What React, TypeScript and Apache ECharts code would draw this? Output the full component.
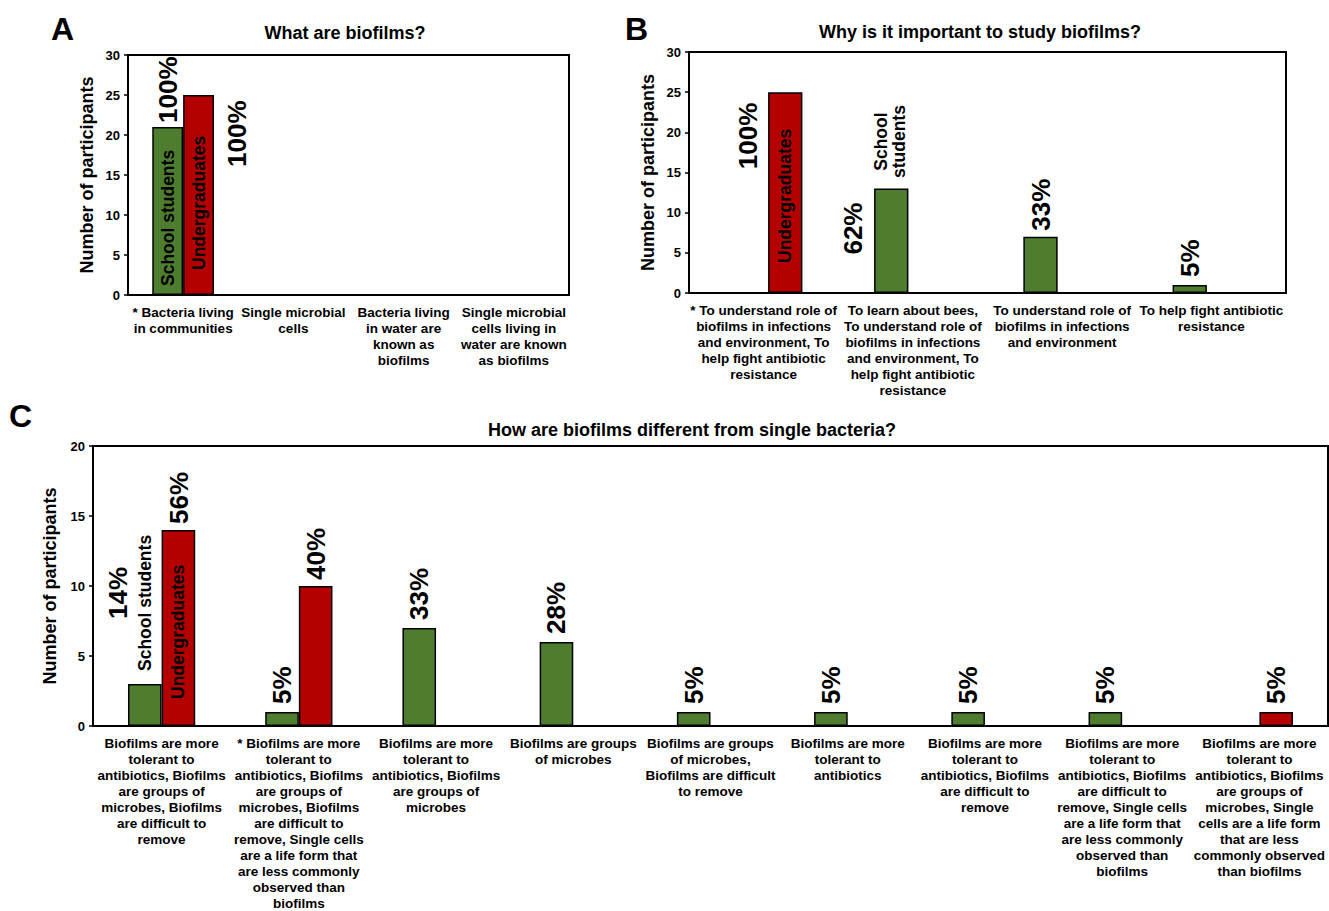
import React, { useEffect, useRef } from "react";
import * as echarts from "echarts";

// ---------- Data ----------
const categoriesA = [
  "* Bacteria living\nin communities",
  "Single microbial\ncells",
  "Bacteria living\nin water are\nknown as\nbiofilms",
  "Single microbial\ncells living in\nwater are known\nas biofilms",
];
const schoolA = [21, 0, 0, 0];
const underA = [25, 0, 0, 0];
const pctSchoolA = ["100%", "", "", ""];
const pctUnderA = ["100%", "", "", ""];

const categoriesB = [
  "* To understand role of\nbiofilms in infections\nand environment, To\nhelp fight antibiotic\nresistance",
  "To learn about bees,\nTo understand role of\nbiofilms in infections\nand environment, To\nhelp fight antibiotic\nresistance",
  "To understand role of\nbiofilms in infections\nand environment",
  "To help fight antibiotic\nresistance",
];
const schoolB = [0, 13, 7, 1];
const underB = [25, 0, 0, 0];
const pctSchoolB = ["", "62%", "33%", "5%"];
const pctUnderB = ["100%", "", "", ""];

const categoriesC = [
  "Biofilms are more\ntolerant to\nantibiotics, Biofilms\nare groups of\nmicrobes, Biofilms\nare difficult to\nremove",
  "* Biofilms are more\ntolerant to\nantibiotics, Biofilms\nare groups of\nmicrobes, Biofilms\nare difficult to\nremove, Single cells\nare a life form that\nare less commonly\nobserved than\nbiofilms",
  "Biofilms are more\ntolerant to\nantibiotics, Biofilms\nare groups of\nmicrobes",
  "Biofilms are groups\nof microbes",
  "Biofilms are groups\nof microbes,\nBiofilms are difficult\nto remove",
  "Biofilms are more\ntolerant to\nantibiotics",
  "Biofilms are more\ntolerant to\nantibiotics, Biofilms\nare difficult to\nremove",
  "Biofilms are more\ntolerant to\nantibiotics, Biofilms\nare difficult to\nremove, Single cells\nare a life form that\nare less commonly\nobserved than\nbiofilms",
  "Biofilms are more\ntolerant to\nantibiotics, Biofilms\nare groups of\nmicrobes, Single\ncells are a life form\nthat are less\ncommonly observed\nthan biofilms",
];
const schoolC = [3, 1, 7, 6, 1, 1, 1, 1, 0];
const underC = [14, 10, 0, 0, 0, 0, 0, 0, 1];
const pctSchoolC = ["14%", "5%", "33%", "28%", "5%", "5%", "5%", "5%", ""];
const pctUnderC = ["56%", "40%", "", "", "", "", "", "", "5%"];

const panelTitles = [
  "What are biofilms?",
  "Why is it important to study biofilms?",
  "How are biofilms different from single bacteria?",
];
const panelLetters = ["A", "B", "C"];
const yAxisMax = [30, 30, 20];
const yName = "Number of participants";
const seriesNames = ["School students", "Undergraduates"];

// ---------- Style ----------
const FONT = "Arial, 'Liberation Sans', Helvetica, sans-serif";
const GREEN = "#4e7d30";
const RED = "#b50000";

const grids = [
  { left: 128, top: 55, width: 441, height: 240 },
  { left: 689, top: 52, width: 597, height: 241 },
  { left: 93, top: 446, width: 1235, height: 285 },
];

function xAxis(i: number, data: string[]) {
  return {
    type: "category",
    gridIndex: i,
    data,
    axisLine: { lineStyle: { color: "#000", width: 2 } },
    axisTick: { show: false },
    axisLabel: {
      interval: 0,
      color: "#000",
      fontFamily: FONT,
      fontWeight: "bold",
      fontSize: 13.5,
      lineHeight: 16,
      margin: 9,
    },
  };
}

function yAxis(i: number) {
  return {
    type: "value",
    gridIndex: i,
    min: 0,
    max: yAxisMax[i],
    interval: 5,
    name: yName,
    nameLocation: "middle",
    nameGap: i === 2 ? 34 : 32,
    nameTextStyle: { color: "#000", fontFamily: FONT, fontWeight: "bold", fontSize: 18 },
    axisLine: { show: true, lineStyle: { color: "#000", width: 2 } },
    axisTick: { show: true, length: 4, lineStyle: { color: "#000", width: 1.5 } },
    axisLabel: { color: "#000", fontFamily: FONT, fontWeight: "bold", fontSize: 13, margin: 8 },
    splitLine: { show: false },
  };
}

function bar(i: number, name: string, data: number[], color: string, width: string, gap: string) {
  return {
    type: "bar",
    name,
    xAxisIndex: i,
    yAxisIndex: i,
    data,
    barWidth: width,
    barGap: gap,
    itemStyle: { color, borderColor: "#000", borderWidth: 1.5 },
  };
}

type Ann = {
  g: number;
  cat: number;
  v: number;
  dx: number;
  dy: number;
  text: string;
  size: number;
  align?: string;
};

export default function App() {
  const ref = useRef<HTMLDivElement>(null);
  useEffect(() => {
    if (!ref.current) return;
    const chart = echarts.init(ref.current, null, { renderer: "svg" });
    chart.setOption({
      animation: false,
      backgroundColor: "#fff",
      grid: grids.map((g) => ({ ...g, show: true, borderColor: "#000", borderWidth: 2 })),
      xAxis: [xAxis(0, categoriesA), xAxis(1, categoriesB), xAxis(2, categoriesC)],
      yAxis: [yAxis(0), yAxis(1), yAxis(2)],
      series: [
        bar(0, seriesNames[0], schoolA, GREEN, "28%", "0%"),
        bar(0, seriesNames[1], underA, RED, "28%", "0%"),
        bar(1, seriesNames[0], schoolB, GREEN, "23%", "26%"),
        bar(1, seriesNames[1], underB, RED, "23%", "26%"),
        bar(2, seriesNames[0], schoolC, GREEN, "24.5%", "0%"),
        bar(2, seriesNames[1], underC, RED, "24.5%", "0%"),
      ],
    });

    const P = 26;
    const N = 17.5;
    const anns: Ann[] = [
      // Panel A
      { g: 0, cat: 0, v: schoolA[0], dx: -15, dy: -4, text: pctSchoolA[0], size: P },
      { g: 0, cat: 0, v: underA[0], dx: 54, dy: 72, text: pctUnderA[0], size: P },
      { g: 0, cat: 0, v: 0, dx: -15, dy: -9, text: seriesNames[0], size: N },
      { g: 0, cat: 0, v: 0, dx: 16, dy: -25, text: seriesNames[1], size: N },
      // Panel B
      { g: 1, cat: 0, v: underB[0], dx: -16, dy: 77, text: pctUnderB[0], size: P },
      { g: 1, cat: 0, v: 0, dx: 21, dy: -30, text: seriesNames[1], size: N },
      { g: 1, cat: 1, v: schoolB[1], dx: -60, dy: 66, text: pctSchoolB[1], size: P },
      { g: 1, cat: 1, v: schoolB[1], dx: -23, dy: -47, text: "School\nstudents", size: N, align: "center" },
      { g: 1, cat: 2, v: schoolB[2], dx: -21, dy: -6, text: pctSchoolB[2], size: P },
      { g: 1, cat: 3, v: schoolB[3], dx: -21, dy: -8, text: pctSchoolB[3], size: P },
      // Panel C
      { g: 2, cat: 0, v: schoolC[0], dx: -44, dy: -65, text: pctSchoolC[0], size: P },
      { g: 2, cat: 0, v: schoolC[0], dx: -17, dy: -13, text: seriesNames[0], size: N },
      { g: 2, cat: 0, v: 0, dx: 16, dy: -27, text: seriesNames[1], size: N },
      { g: 2, cat: 0, v: underC[0], dx: 17, dy: -6, text: pctUnderC[0], size: P },
      { g: 2, cat: 1, v: underC[1], dx: 17, dy: -6, text: pctUnderC[1], size: P },
    ];
    for (let i = 1; i < schoolC.length; i++) {
      if (pctSchoolC[i]) anns.push({ g: 2, cat: i, v: schoolC[i], dx: -17, dy: -8, text: pctSchoolC[i], size: P });
    }
    for (let i = 2; i < underC.length; i++) {
      if (pctUnderC[i]) anns.push({ g: 2, cat: i, v: underC[i], dx: 17, dy: -8, text: pctUnderC[i], size: P });
    }

    const graphic: any[] = [];
    anns.forEach((a) => {
      const p = chart.convertToPixel({ gridIndex: a.g } as any, [a.cat, a.v]) as number[];
      const al = a.align || "left";
      graphic.push({
        type: "text",
        z: 100,
        x: p[0] + a.dx,
        y: p[1] + a.dy,
        rotation: Math.PI / 2,
        style: {
          text: a.text,
          fill: "#000",
          font: `bold ${a.size}px ${FONT}`,
          align: al,
          textAlign: al,
          verticalAlign: "middle",
          textVerticalAlign: "middle",
          lineHeight: a.size + 1,
        },
      });
    });

    const letterPos = [
      [51, 29],
      [625, 29],
      [9, 416],
    ];
    const titlePos = [
      [345, 33],
      [980, 32],
      [692, 430],
    ];
    panelLetters.forEach((l, i) => {
      graphic.push({
        type: "text",
        z: 100,
        x: letterPos[i][0],
        y: letterPos[i][1],
        style: {
          text: l,
          fill: "#000",
          font: `bold 32px ${FONT}`,
          align: "left",
          textAlign: "left",
          verticalAlign: "middle",
          textVerticalAlign: "middle",
        },
      });
    });
    panelTitles.forEach((t, i) => {
      graphic.push({
        type: "text",
        z: 100,
        x: titlePos[i][0],
        y: titlePos[i][1],
        style: {
          text: t,
          fill: "#000",
          font: `bold 18px ${FONT}`,
          align: "center",
          textAlign: "center",
          verticalAlign: "middle",
          textVerticalAlign: "middle",
        },
      });
    });

    chart.setOption({ graphic });
    return () => chart.dispose();
  }, []);

  return (
    <div
      ref={ref}
      style={{ position: "fixed", left: 0, top: 0, width: 1329, height: 911, background: "#fff" }}
    />
  );
}
